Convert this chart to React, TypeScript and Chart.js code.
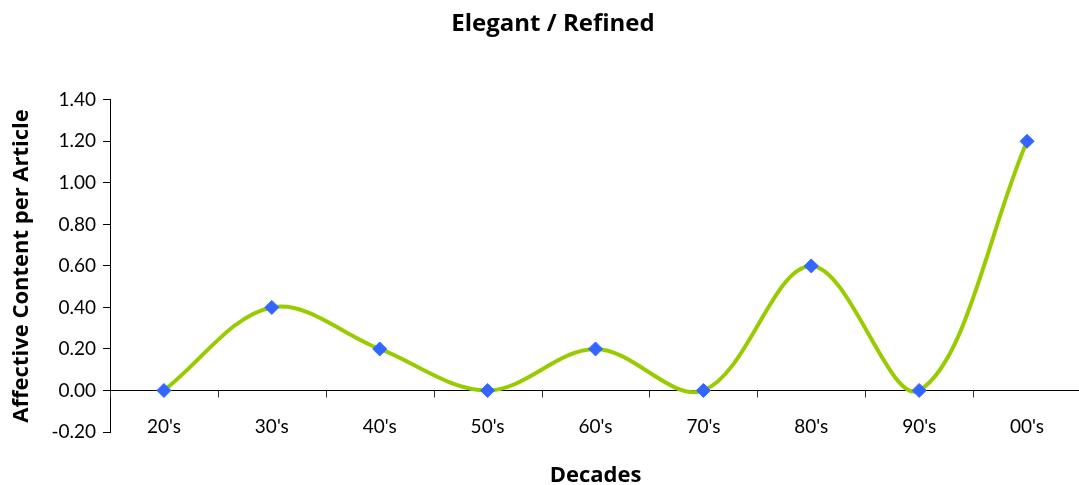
import React, { useEffect, useRef } from "react";
import { Chart, registerables } from "chart.js";

Chart.register(...registerables);

const categories = ["20's", "30's", "40's", "50's", "60's", "70's", "80's", "90's", "00's"];
const values = [0, 0.4, 0.2, 0, 0.2, 0, 0.6, 0, 1.2];
const yMin = -0.2;
const yMax = 1.4;
const yStep = 0.2;

const titleText = "Elegant / Refined";
const xTitle = "Decades";
const yTitle = "Affective Content per Article";

const FONT = "Lato, 'DejaVu Sans', sans-serif";
const BOLD_FONT = "'Open Sans', Lato, sans-serif";

const categoryTicks = {
  id: "categoryTicks",
  afterDatasetsDraw(chart: any) {
    const x = chart.scales.x;
    const y = chart.scales.y;
    const y0 = y.getPixelForValue(0);
    const band = x.getPixelForValue(1) - x.getPixelForValue(0);
    const ctx = chart.ctx;
    ctx.save();
    ctx.strokeStyle = "#333";
    ctx.lineWidth = 1;
    for (let i = 0; i <= categories.length; i++) {
      const px = Math.round(x.getPixelForValue(i) - band / 2) + 0.5;
      ctx.beginPath();
      ctx.moveTo(px, y0);
      ctx.lineTo(px, y0 + 7);
      ctx.stroke();
    }
    ctx.restore();
  },
};

export default function App() {
  const ref = useRef<HTMLCanvasElement>(null);
  useEffect(() => {
    if (!ref.current) return;
    const chart = new Chart(ref.current, {
      type: "line",
      data: {
        labels: categories,
        datasets: [
          {
            data: values,
            borderColor: "#99CC00",
            borderWidth: 4,
            tension: 0.35,
            pointStyle: "rectRot",
            pointRadius: 7,
            pointBackgroundColor: "#3366FF",
            pointBorderColor: "#3366FF",
            pointBorderWidth: 1,
            fill: false,
          },
        ],
      },
      options: {
        responsive: false,
        animation: false,
        layout: { padding: { left: 17, right: 0, top: 0, bottom: 0 } },
        plugins: {
          legend: { display: false },
          tooltip: { enabled: false },
          title: {
            display: true,
            text: titleText,
            color: "#000",
            font: { family: BOLD_FONT, size: 24, weight: "bold", lineHeight: 1.2 },
            padding: { top: 10, bottom: 61 },
          },
        },
        scales: {
          x: {
            type: "category",
            offset: true,
            grid: { display: false, drawTicks: false },
            border: { display: false },
            ticks: { color: "#000", font: { family: FONT, size: 19 }, padding: -17, maxRotation: 0 },
            title: {
              display: true,
              text: xTitle,
              color: "#000",
              font: { family: BOLD_FONT, size: 22, weight: "bold", lineHeight: 1 },
              padding: { top: 0, bottom: -2 },
            },
            afterFit(scale: any) {
              scale.height = 53;
              scale._computeLabelArea = () => undefined;
            },
          },
          y: {
            min: yMin,
            max: yMax,
            ticks: {
              stepSize: yStep,
              color: "#000",
              font: { family: FONT, size: 19 },
              padding: 7,
              callback: (v: any) => (Math.abs(Number(v)) < 1e-9 ? "0.00" : Number(v).toFixed(2)),
            },
            grid: {
              color: (ctx: any) => (ctx.tick && Math.abs(ctx.tick.value) < 1e-9 ? "#000" : "rgba(0,0,0,0)"),
              tickColor: "#000",
              tickLength: 7,
              lineWidth: 1,
            },
            border: { display: true, color: "#000", width: 1 },
            title: {
              display: true,
              text: yTitle,
              color: "#000",
              font: { family: BOLD_FONT, size: 22, weight: "bold", lineHeight: 1.2 },
              padding: { top: -8, bottom: 0 },
            },
            afterFit(scale: any) {
              scale.width = 93;
            },
          },
        },
      },
      plugins: [categoryTicks],
    });
    return () => chart.destroy();
  }, []);
  return (
    <div style={{ position: "fixed", left: 0, top: 0, width: 1079, height: 485, overflow: "hidden", background: "#fff" }}>
      <canvas ref={ref} width={1089} height={485} style={{ width: 1089, height: 485, display: "block" }} />
    </div>
  );
}
